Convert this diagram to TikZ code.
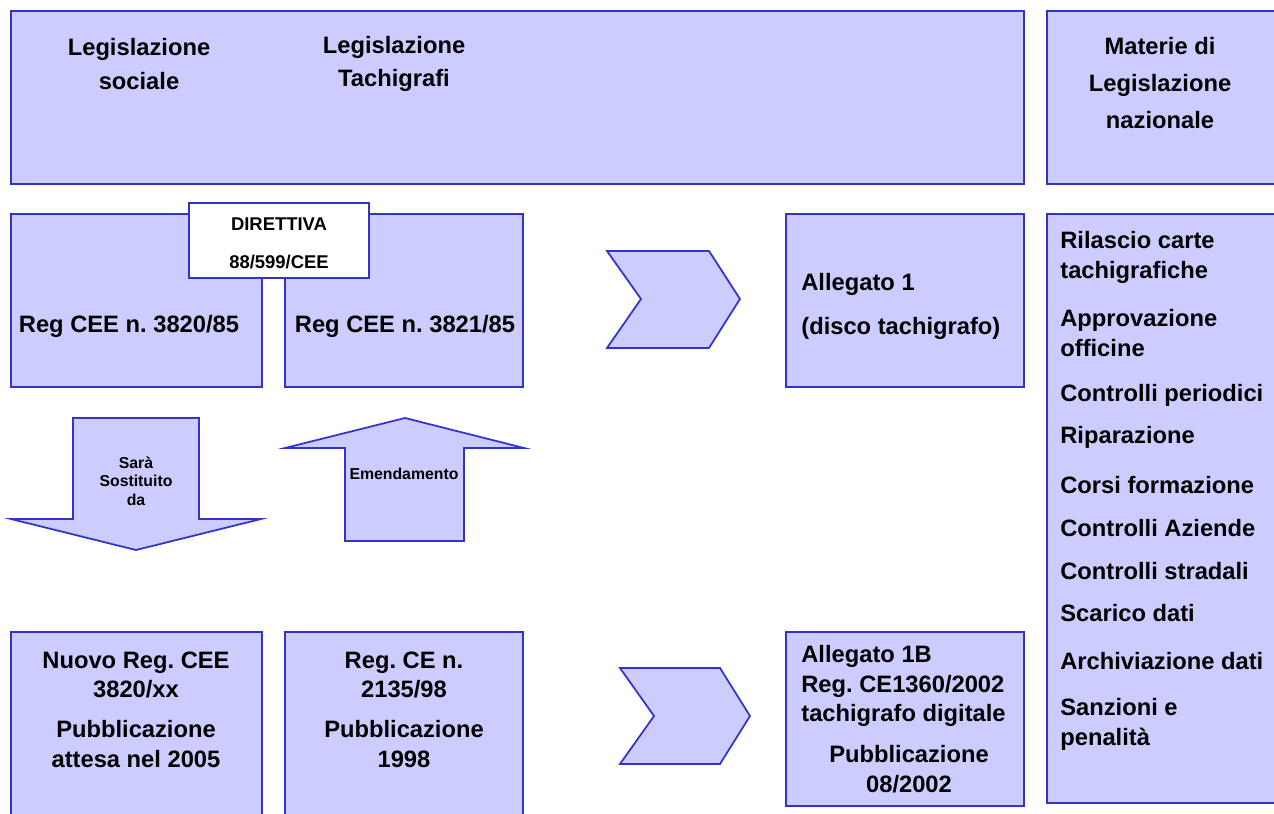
\documentclass[tikz,border=0pt]{standalone}
\usepackage{fontspec}
\setmainfont{Liberation Sans}
\frenchspacing
\definecolor{boxfill}{RGB}{204,204,255}
\definecolor{boxline}{RGB}{51,51,204}
\tikzset{
  panel/.style={draw=boxline,fill=boxfill,line width=1pt},
  lbl/.style={font=\bfseries\fontsize{13.5}{17}\selectfont,inner sep=0pt,align=center},
  small/.style={font=\bfseries\fontsize{9}{10.5}\selectfont,inner sep=0pt,align=center}
}
\begin{document}
\begin{tikzpicture}[x=0.02cm,y=-0.02cm]
\clip (0,0) rectangle (1274,814);
\draw[panel] (11,11) rectangle (1024,184);
\draw[panel] (1047,11) rectangle (1290,184);
\draw[panel] (11,214) rectangle (262,387);
\draw[panel] (285,214) rectangle (523,387);
\draw[panel,fill=white] (189,203) rectangle (369,278);
\draw[panel] (786,214) rectangle (1024,387);
\draw[panel] (1047,214) rectangle (1290,803);
\draw[panel] (607,251)--(709,251)--(740,299)--(709,348)--(607,348)--(641,299)--cycle;
\draw[panel] (620,668)--(720,668)--(750,716)--(720,764)--(620,764)--(654,716)--cycle;
\draw[panel] (73,418)--(199,418)--(199,519)--(261,519)--(136,550)--(11,519)--(73,519)--cycle;
\draw[panel] (405,418)--(524,448)--(464,448)--(464,541)--(345,541)--(345,448)--(285,448)--cycle;
\draw[panel] (11,632) rectangle (262,830);
\draw[panel] (285,632) rectangle (523,830);
\draw[panel] (786,632) rectangle (1024,806);
% testi
\node[lbl] (socl) at (139,64) {Legislazione\\[2pt]sociale};
\node[lbl] (tach) at (394,64) {Legislazione\\[2pt]Tachigrafi\hspace{1.2em}};
\node[lbl] (mater) at (1160,83) {Materie di\\[4pt]Legislazione\\[4pt]nazionale};
\node[font=\bfseries\fontsize{10.5}{12}\selectfont,inner sep=0pt,align=center] (dirett) at (279,243) {DIRETTIVA\\[9.5pt]88/599/CEE};
\node[lbl] (reg1) at (129,326) {Reg CEE n. 3820/85};
\node[lbl] (reg2) at (405,326) {Reg CEE n. 3821/85};
\node[lbl,anchor=west,align=left] (alleg1) at (801,306) {Allegato 1\\[8pt](disco tachigrafo)};
\node[small] (sost) at (136,481) {Sarà\\Sostituito\\da};
\node[small] (emend) at (404,474) {Emendamento};
\node[lbl,anchor=west,align=left] (r1) at (1060,257) {Rilascio carte\\tachigrafiche};
\node[lbl,anchor=west,align=left] (r2) at (1060,333) {Approvazione\\officine};
\node[lbl,anchor=west] (r3) at (1060,395) {Controlli periodici};
\node[lbl,anchor=west] (r4) at (1060,437) {Riparazione};
\node[lbl,anchor=west] (r5) at (1060,485) {Corsi formazione};
\node[lbl,anchor=west] (r6) at (1060,528) {Controlli Aziende};
\node[lbl,anchor=west] (r7) at (1060,571) {Controlli stradali};
\node[lbl,anchor=west] (r8) at (1060,613) {Scarico dati};
\node[lbl,anchor=west] (r9) at (1060,661) {Archiviazione dati};
\node[lbl,anchor=west,align=left] (r10) at (1060,724) {Sanzioni e\\penalità};
\node[lbl] (nuovo) at (136,675) {Nuovo Reg. CEE\\3820/xx};
\node[lbl] (pubbl1) at (136,744) {Pubblicazione\\attesa nel 2005};
\node[lbl] (regce) at (404,675) {Reg. CE n.\\2135/98};
\node[lbl] (pubbl2) at (404,744) {Pubblicazione\\1998};
\node[lbl,anchor=west,align=left] (alleg1b) at (801,686) {Allegato 1B\\Reg. CE1360/2002\\tachigrafo digitale};
\node[lbl] (pubbl3) at (909,769) {Pubblicazione\\08/2002};
\end{tikzpicture}
\end{document}
